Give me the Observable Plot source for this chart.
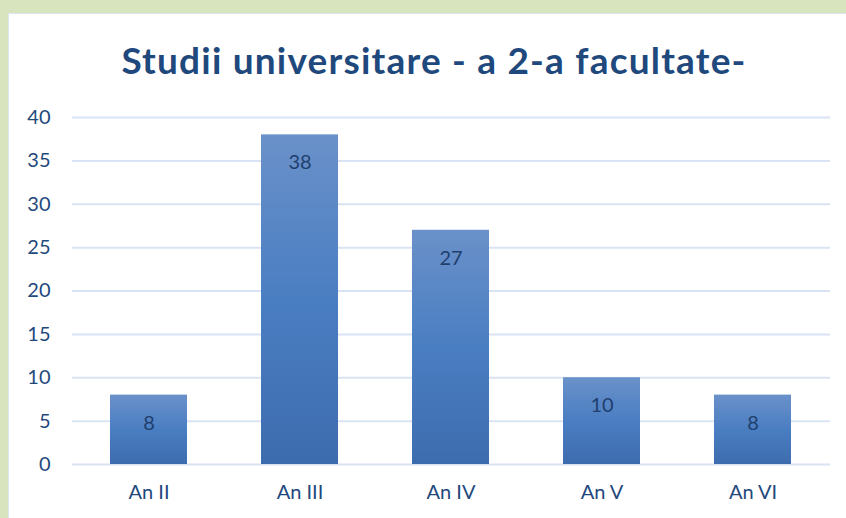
<!DOCTYPE html>
<html>
<head>
<meta charset="utf-8">
<script src="https://cdn.jsdelivr.net/npm/d3@7"></script>
<script src="https://cdn.jsdelivr.net/npm/@observablehq/plot@0.6"></script>
<style>
  html, body { margin: 0; padding: 0; width: 846px; height: 518px; overflow: hidden; background: #d8e4bd; }
  #panel { position: absolute; left: 8px; top: 13px; width: 850px; height: 520px; background: #ffffff; border: 1.5px solid #dbe5f3; box-sizing: border-box; }
  #title { position: absolute; left: 0; top: 37px; width: 868px; text-align: center; font-family: Lato, sans-serif; font-weight: 700; font-size: 37px; letter-spacing: 1.2px; color: #1f497d; }
  #chart { position: absolute; left: 0; top: 100px; }
  #chart svg text { font-family: Lato, sans-serif; }
</style>
</head>
<body>
<div id="panel"></div>
<div id="title">Studii universitare - a 2-a facultate-</div>
<div id="chart"></div>
<script>
const categories = ["An II", "An III", "An IV", "An V", "An VI"];
const values = [8, 38, 27, 10, 8];
const yTicks = [0, 5, 10, 15, 20, 25, 30, 35, 40];

const data = categories.map((c, i) => ({category: c, value: values[i]}));

const plot = Plot.plot({
  width: 846,
  height: 418,
  marginTop: 17,
  marginBottom: 54,
  marginLeft: 72,
  marginRight: 16,
  style: {fontFamily: "Lato, sans-serif", fontSize: "20px", color: "#1f497d", background: "transparent"},
  x: {domain: categories, paddingInner: 0.49, paddingOuter: 0.245, label: null},
  y: {domain: [0, 40], label: null},
  marks: [
    Plot.ruleY(yTicks, {stroke: "#d9e3f3", strokeWidth: 2}),
    Plot.barY(data, {x: "category", y: "value", fill: "url(#barGrad)"}),
    Plot.text(data, {x: "category", y: "value", text: d => String(d.value), dy: 28, fill: "#1f3f6e", fontSize: 20}),
    Plot.axisX({tickSize: 0, tickPadding: 20, fontSize: 20, fill: "#1f497d", label: null}),
    Plot.axisY({ticks: yTicks, tickSize: 0, tickPadding: 22, fontSize: 20, fill: "#1f497d", label: null})
  ]
});

const svg = d3.select(plot);
const defs = svg.insert("defs", ":first-child");
const g = defs.append("linearGradient").attr("id", "barGrad").attr("x1", 0).attr("y1", 0).attr("x2", 0).attr("y2", 1);
g.append("stop").attr("offset", "0%").attr("stop-color", "#6a91c9");
g.append("stop").attr("offset", "50%").attr("stop-color", "#4a7ec2");
g.append("stop").attr("offset", "100%").attr("stop-color", "#3d6cae");

document.getElementById("chart").appendChild(plot);
</script>
</body>
</html>
